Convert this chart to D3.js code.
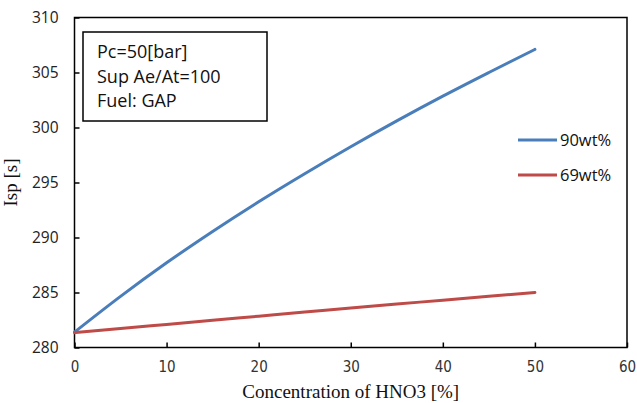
<!DOCTYPE html>
<html>
<head>
<meta charset="utf-8">
<script src="https://cdn.jsdelivr.net/npm/d3@7"></script>
<style>
  body { margin: 0; background: white; }
  svg { display: block; }
</style>
</head>
<body>
<svg id="chart" width="637" height="403"></svg>
<script>
// HNO3 concentration [%]
const concentration = [0, 5, 10, 15, 20, 25, 30, 35, 40, 45, 50];
// Isp [s] per oxidizer grade
const isp90 = [281.4, 284.65, 287.7, 290.55, 293.25, 295.8, 298.25, 300.6, 302.85, 305.0, 307.1];
const isp69 = [281.35, 281.72, 282.1, 282.48, 282.85, 283.22, 283.6, 283.95, 284.3, 284.65, 285.0];
const seriesNames = ['90wt%', '69wt%'];
const seriesColors = ['#4a7ebb', '#be4b48'];
const xTicks = [0, 10, 20, 30, 40, 50, 60];
const yTicks = [280, 285, 290, 295, 300, 305, 310];
const noteLines = ['Pc=50[bar]', 'Sup Ae/At=100', 'Fuel: GAP'];

const width = 637, height = 403;
const margin = { top: 17.5, right: 10, bottom: 55.5, left: 74.5 };
const chartWidth = width - margin.left - margin.right;
const chartHeight = height - margin.top - margin.bottom;

const svg = d3.select('#chart');
const g = svg.append('g')
    .attr('transform', `translate(${margin.left},${margin.top})`);

const x = d3.scaleLinear().domain([0, 60]).range([0, chartWidth]);
const y = d3.scaleLinear().domain([280, 310]).range([chartHeight, 0]);

// x axis, ticks pointing inside
const xAxis = g.append('g')
    .attr('transform', `translate(0,${chartHeight})`)
    .call(d3.axisBottom(x).tickValues(xTicks).tickSizeInner(-5).tickSizeOuter(0).tickPadding(14));
xAxis.select('.domain').remove();
xAxis.selectAll('line').attr('stroke', '#000').attr('stroke-width', 1.5);
xAxis.selectAll('text')
    .style('font-family', '"DejaVu Sans Condensed", "Liberation Sans Narrow", sans-serif')
    .style('font-size', '15px')
    .style('fill', '#333');

// y axis
const yAxis = g.append('g')
    .call(d3.axisLeft(y).tickValues(yTicks).tickSizeInner(-5).tickSizeOuter(0).tickPadding(16));
yAxis.select('.domain').remove();
yAxis.selectAll('line').attr('stroke', '#000').attr('stroke-width', 1.5);
yAxis.selectAll('text')
    .style('font-family', '"Open Sans", sans-serif')
    .style('font-size', '15.5px')
    .style('fill', '#222');

// plot frame
g.append('rect')
    .attr('x', 0).attr('y', 0)
    .attr('width', chartWidth).attr('height', chartHeight)
    .attr('fill', 'none')
    .attr('stroke', '#000')
    .attr('stroke-width', 1.5);

// lines
const line = d3.line()
    .x(d => x(d[0]))
    .y(d => y(d[1]))
    .curve(d3.curveMonotoneX);

[isp90, isp69].forEach((vals, i) => {
    g.append('path')
        .datum(concentration.map((c, j) => [c, vals[j]]))
        .attr('fill', 'none')
        .attr('stroke', seriesColors[i])
        .attr('stroke-width', 3)
        .attr('stroke-linecap', 'round')
        .attr('d', line);
});

// note box
svg.append('rect')
    .attr('x', 83).attr('y', 32)
    .attr('width', 184).attr('height', 89)
    .attr('fill', 'white')
    .attr('stroke', '#000')
    .attr('stroke-width', 1.5);

svg.append('g').selectAll('text')
    .data(noteLines)
    .enter().append('text')
    .attr('x', 97)
    .attr('y', (d, i) => 58 + i * 24.5)
    .text(d => d)
    .style('font-family', '"Open Sans", sans-serif')
    .style('font-size', '18px')
    .style('fill', '#111');

// legend
const legend = svg.append('g')
    .attr('transform', 'translate(518,140)');

seriesNames.forEach((name, i) => {
    legend.append('line')
        .attr('x1', 0).attr('x2', 39)
        .attr('y1', i * 35).attr('y2', i * 35)
        .attr('stroke', seriesColors[i])
        .attr('stroke-width', 3);
    legend.append('text')
        .attr('x', 42)
        .attr('y', i * 35)
        .attr('dy', '0.35em')
        .text(name)
        .style('font-family', '"Open Sans", sans-serif')
        .style('font-size', '16.5px')
        .style('fill', '#111');
});

// axis titles
svg.append('text')
    .attr('x', margin.left + chartWidth / 2)
    .attr('y', 398)
    .attr('text-anchor', 'middle')
    .text('Concentration of HNO3 [%]')
    .style('font-family', '"Liberation Serif", serif')
    .style('font-size', '19px')
    .style('fill', '#111');

svg.append('text')
    .attr('transform', `translate(17,${margin.top + chartHeight / 2}) rotate(-90)`)
    .attr('text-anchor', 'middle')
    .text('Isp [s]')
    .style('font-family', '"Liberation Serif", serif')
    .style('font-size', '19px')
    .style('fill', '#111');
</script>
</body>
</html>
